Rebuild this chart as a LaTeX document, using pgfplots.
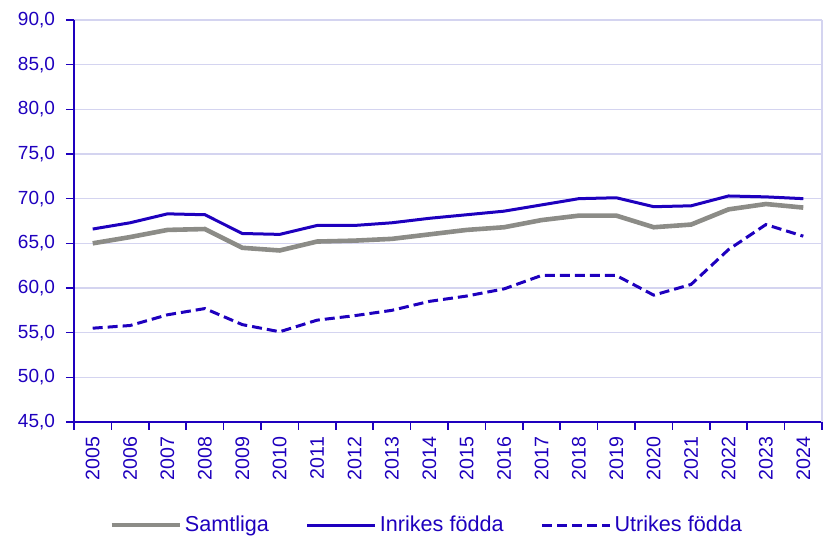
\documentclass[border=0pt]{standalone}
\usepackage{pgfplots}
\pgfplotsset{compat=1.18}
\usepackage{fontspec}
\setmainfont{Liberation Sans}
\definecolor{scbblue}{HTML}{1E00BE}
\definecolor{scbgrey}{HTML}{8C8C87}
\definecolor{gridcol}{HTML}{D4D4F0}

\pgfplotstableread{
idx year samtliga inrikes utrikes
0  2005 65.0 66.6 55.5
1  2006 65.7 67.3 55.8
2  2007 66.5 68.3 57.0
3  2008 66.6 68.2 57.7
4  2009 64.5 66.1 55.9
5  2010 64.2 66.0 55.1
6  2011 65.2 67.0 56.4
7  2012 65.3 67.0 56.9
8  2013 65.5 67.3 57.5
9  2014 66.0 67.8 58.5
10 2015 66.5 68.2 59.1
11 2016 66.8 68.6 59.9
12 2017 67.6 69.3 61.4
13 2018 68.1 70.0 61.4
14 2019 68.1 70.1 61.4
15 2020 66.8 69.1 59.2
16 2021 67.1 69.2 60.4
17 2022 68.8 70.3 64.3
18 2023 69.4 70.2 67.1
19 2024 69.0 70.0 65.8
}\data

\begin{document}
\begin{tikzpicture}
\begin{axis}[
  scale only axis,
  width=374pt, height=201pt,
  xmin=-0.5, xmax=19.5,
  ymin=45, ymax=90,
  axis x line*=bottom,
  axis y line*=left,
  axis line style={scbblue, line width=0.8pt},
  xtick={0,...,19},
  xticklabels={2005,2006,2007,2008,2009,2010,2011,2012,2013,2014,2015,2016,2017,2018,2019,2020,2021,2022,2023,2024},
  major x tick style={draw=none},
  minor xtick={-0.5,0.5,...,19.5},
  minor x tick style={scbblue, line width=0.8pt},
  x tick label style={rotate=90, anchor=east, font=\fontsize{9.8}{11}\selectfont, text=scbblue},
  ytick={45,50,...,90},
  y tick style={scbblue, line width=0.8pt},
  y tick label style={font=\fontsize{9.5}{11}\selectfont, text=scbblue, xshift=-2pt},
  yticklabel style={/pgf/number format/.cd, fixed, fixed zerofill, precision=1, use comma, assume math mode=true},
  tick align=outside,
  major tick length=4pt,
  minor tick length=4pt,
  ymajorgrids,
  grid style={gridcol, line width=0.8pt},
  legend style={at={(0.472,-0.225)}, anchor=north, draw=none, fill=none,
    legend columns=3, font=\fontsize{10.8}{12}\selectfont, text=scbblue,
    inner sep=0pt,
    nodes={inner sep=1.5pt},
    /tikz/every odd column/.append style={column sep=0pt},
    /tikz/every even column/.append style={column sep=17pt}},
  legend image code/.code={\draw[#1] (0cm,0cm) -- (34pt,0cm);},
  clip=false,
]
\draw[gridcol, line width=0.8pt] (rel axis cs:1,0) -- (rel axis cs:1,1);
\path (rel axis cs:0,0) ++(-37pt,-56pt) (rel axis cs:1,1) ++(1pt,10pt);
\addplot[scbgrey, line width=2.3pt] table[x=idx, y=samtliga] {\data};
\addlegendentry{Samtliga}
\addplot[scbblue, line width=1.5pt] table[x=idx, y=inrikes] {\data};
\addlegendentry{Inrikes födda}
\addplot[scbblue, line width=1.5pt, dash pattern=on 5pt off 2.5pt] table[x=idx, y=utrikes] {\data};
\addlegendentry{Utrikes födda}
\end{axis}
\end{tikzpicture}
\end{document}
